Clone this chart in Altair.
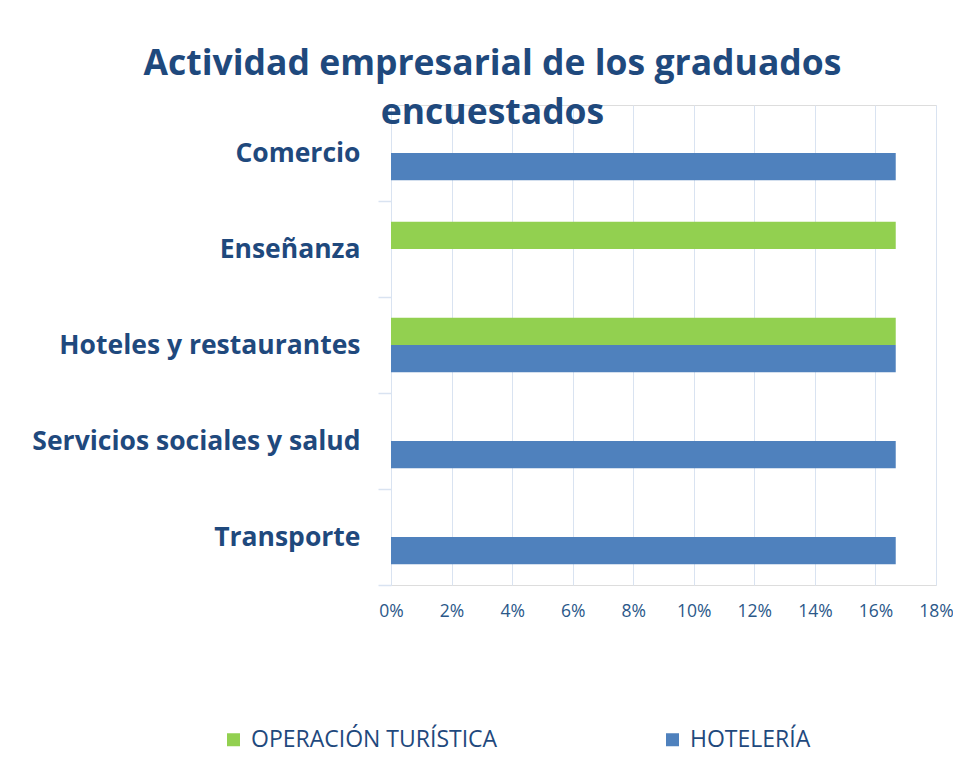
import altair as alt
import pandas as pd

categories = ["Comercio", "Enseñanza", "Hoteles y restaurantes",
              "Servicios sociales y salud", "Transporte"]
series = ["OPERACIÓN TURÍSTICA", "HOTELERÍA"]
operacion_turistica = [None, 0.1667, 0.1667, None, None]
hoteleria = [0.1667, None, 0.1667, 0.1667, 0.1667]
x_ticks = [0, 0.02, 0.04, 0.06, 0.08, 0.10, 0.12, 0.14, 0.16, 0.18]
colors = ["#92D050", "#4F81BD"]

rows = []
for cat, v1, v2 in zip(categories, operacion_turistica, hoteleria):
    if v1 is not None:
        rows.append({"categoria": cat, "serie": series[0], "valor": v1})
    if v2 is not None:
        rows.append({"categoria": cat, "serie": series[1], "valor": v2})
df = pd.DataFrame(rows)

TEXT = "#1F497D"
GRID = "#D9E3F1"
FONT = "Open Sans"

chart = alt.Chart(df).mark_bar().encode(
    y=alt.Y("categoria:N", sort=categories,
            scale=alt.Scale(domain=categories, paddingInner=0.43, paddingOuter=0.215),
            axis=alt.Axis(title=None, labelFont=FONT, labelFontWeight="bold",
                          labelFontSize=26.5, labelColor=TEXT, labelPadding=18,
                          tickOffset=48, labelOffset=-48, tickSize=13, tickColor=GRID,
                          tickWidth=1.5,
                          domainColor=GRID, grid=False, labelLimit=400)),
    yOffset=alt.YOffset("serie:N", sort=series,
                        scale=alt.Scale(domain=series, paddingInner=0, paddingOuter=0)),
    x=alt.X("valor:Q", scale=alt.Scale(domain=[0, 0.18], nice=False),
            axis=alt.Axis(title=None, format=".0%", values=x_ticks,
                          labelFont=FONT, labelFontSize=17.5, labelColor="#2B5889",
                          ticks=False, tickSize=0, domain=False, labelPadding=17,
                          labelFlush=False,
                          grid=True, gridColor=GRID, gridWidth=1)),
    color=alt.Color("serie:N", sort=series,
                    scale=alt.Scale(domain=series, range=colors),
                    legend=alt.Legend(title=None, orient="none", direction="horizontal",
                                      legendX=-169, legendY=623, columns=2,
                                      columnPadding=163, symbolType="square",
                                      symbolSize=169, symbolStrokeWidth=0,
                                      labelFont=FONT, labelFontSize=23,
                                      labelColor=TEXT, labelOffset=6,
                                      labelLimit=400)),
).properties(
    width=545,
    height=480,
    padding={"left": 383, "top": 97, "right": 17, "bottom": 175},
    autosize=alt.AutoSizeParams(type="none"),
    title=alt.TitleParams(
        text=["Actividad empresarial de los graduados", "encuestados"],
        font=FONT, fontSize=35.5, fontWeight="bold", color=TEXT,
        anchor="middle", frame="group", dx=-171, offset=-26, lineHeight=49,
    ),
).configure_view(stroke=None).configure(background="white")

chart.save("out.html", embed_options={"renderer": "svg", "actions": False})
